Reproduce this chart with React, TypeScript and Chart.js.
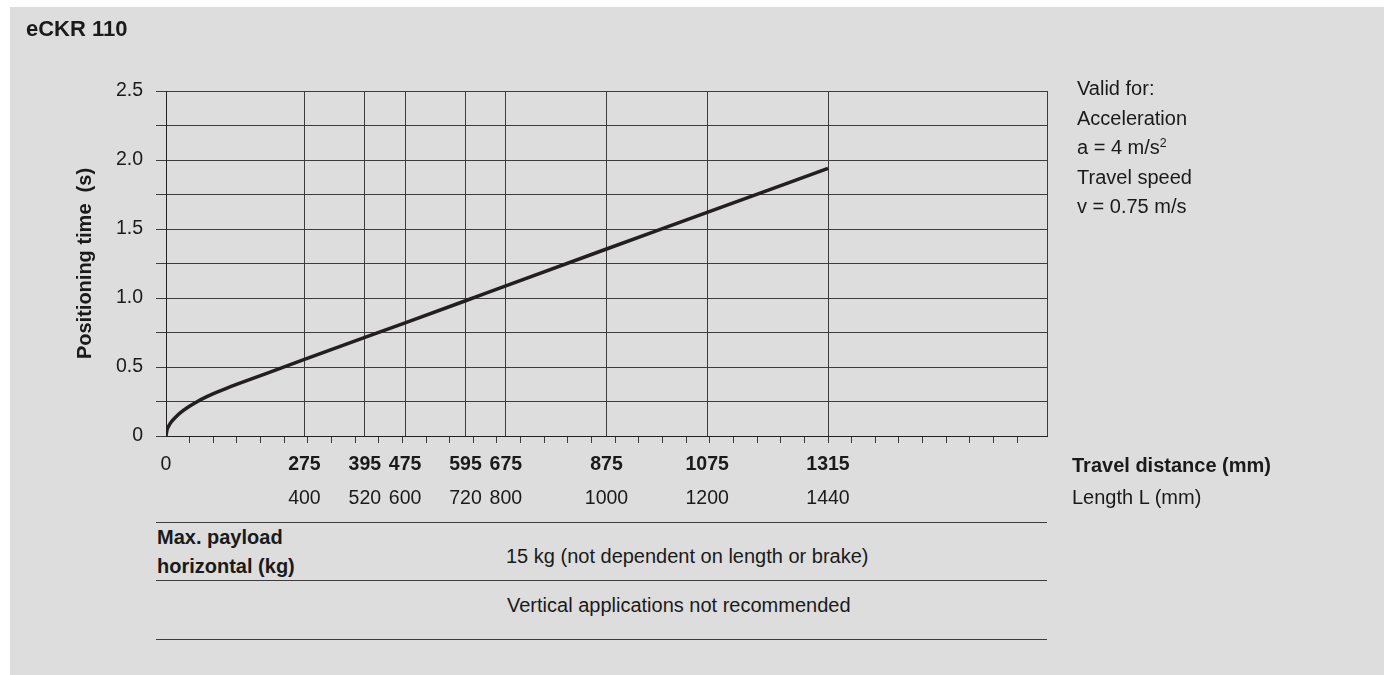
import React, { useEffect, useRef } from "react";
import { Chart, registerables } from "chart.js";

Chart.register(...registerables);

// ---- data ----
const TRAVEL_MM = [0, 2, 5, 10, 20, 30, 45, 60, 80, 100, 120, 140, 200, 275, 395, 475, 595, 675, 875, 1075, 1315];
const POS_TIME_S = [0, 0.045, 0.07, 0.1, 0.14, 0.173, 0.212, 0.245, 0.283, 0.316, 0.346, 0.374, 0.454, 0.555, 0.715, 0.82, 0.98, 1.088, 1.355, 1.62, 1.94];

const TRAVEL_TICKS = [0, 275, 395, 475, 595, 675, 875, 1075, 1315];
const LENGTH_LABELS = ["", "400", "520", "600", "720", "800", "1000", "1200", "1440"];

const X_MAX = 1750;
const Y_MAX = 2.5;
const Y_STEP = 0.25;
const MINOR_STEP = 46.96;
const MINOR_COUNT = 36;

const NOTES = ["Valid for:", "Acceleration", "a = 4 m/s", "Travel speed", "v = 0.75 m/s"];

const FONT = "'Liberation Sans', Arial, Helvetica, sans-serif";
const TEXT = "#1a1a1a";
const GRID = "#3c3c3c";
const TRANSPARENT = "rgba(0,0,0,0)";

const near = (a: number, b: number) => Math.abs(a - b) < 1;

export default function App() {
  const canvasRef = useRef<HTMLCanvasElement | null>(null);

  useEffect(() => {
    document.body.style.margin = "0";
    const canvas = canvasRef.current;
    if (!canvas) return;

    const majorVals = [...TRAVEL_TICKS, X_MAX];
    const minorVals = Array.from({ length: MINOR_COUNT }, (_, i) => (i + 1) * MINOR_STEP);
    const allVals = [...majorVals];
    minorVals.forEach((m) => {
      if (!majorVals.some((M) => near(M, m))) allVals.push(m);
    });
    allVals.sort((a, b) => a - b);
    const isMajor = (v: number) => majorVals.some((M) => near(M, v));
    const hasMark = (v: number) => minorVals.some((m) => near(m, v));

    const chart = new Chart(canvas, {
      type: "line",
      data: {
        datasets: [
          {
            data: TRAVEL_MM.map((x, i) => ({ x, y: POS_TIME_S[i] })),
            borderColor: "#231f20",
            borderWidth: 3.5,
            pointRadius: 0,
            fill: false,
            cubicInterpolationMode: "monotone",
            borderCapStyle: "butt",
            xAxisID: "x",
            yAxisID: "y",
          },
        ],
      },
      options: {
        responsive: false,
        animation: false,
        events: [],
        layout: { padding: { left: 0, top: 91, right: 337, bottom: 4 } },
        plugins: {
          legend: { display: false },
          tooltip: { enabled: false },
        },
        scales: {
          x: {
            type: "linear",
            position: "bottom",
            weight: 0,
            min: 0,
            max: X_MAX,
            afterBuildTicks: (scale: any) => {
              scale.ticks = allVals.map((v) => ({ value: v }));
            },
            afterFit: (scale: any) => {
              scale.height = 40;
            },
            ticks: {
              autoSkip: false,
              maxRotation: 0,
              minRotation: 0,
              padding: 10,
              color: TEXT,
              font: (ctx: any) => ({
                family: FONT,
                size: 19.5,
                weight: ctx.tick && ctx.tick.value === 0 ? "normal" : "bold",
              }),
              callback: (value: any) => {
                const idx = TRAVEL_TICKS.indexOf(Number(value));
                return idx >= 0 ? String(TRAVEL_TICKS[idx]) : "";
              },
            },
            grid: {
              drawTicks: true,
              tickLength: 7,
              lineWidth: 1,
              color: (ctx: any) => {
                const v = ctx.tick ? ctx.tick.value : -1;
                return isMajor(v) && v !== 0 ? GRID : TRANSPARENT;
              },
              tickColor: (ctx: any) => {
                const v = ctx.tick ? ctx.tick.value : -1;
                return hasMark(v) ? GRID : TRANSPARENT;
              },
            },
            border: { display: true, color: "#222", width: 1 },
          },
          x2: {
            type: "linear",
            position: "bottom",
            weight: 1,
            min: 0,
            max: X_MAX,
            afterBuildTicks: (scale: any) => {
              scale.ticks = TRAVEL_TICKS.filter((_, i) => LENGTH_LABELS[i] !== "").map((v) => ({ value: v }));
            },
            afterFit: (scale: any) => {
              scale.height = 40;
            },
            ticks: {
              autoSkip: false,
              maxRotation: 0,
              minRotation: 0,
              padding: 11,
              color: TEXT,
              font: { family: FONT, size: 19.5 },
              callback: (value: any) => {
                const idx = TRAVEL_TICKS.indexOf(Number(value));
                return idx >= 0 ? LENGTH_LABELS[idx] : "";
              },
            },
            grid: { display: false, drawTicks: false },
            border: { display: false },
          },
          y: {
            type: "linear",
            position: "left",
            min: 0,
            max: Y_MAX,
            afterFit: (scale: any) => {
              scale.width = 166;
            },
            ticks: {
              stepSize: Y_STEP,
              padding: 13,
              color: TEXT,
              font: { family: FONT, size: 19.5 },
              callback: (value: any) => {
                const n = Number(value);
                if (Math.abs(n * 2 - Math.round(n * 2)) > 1e-6) return "";
                return n === 0 ? "0" : n.toFixed(1);
              },
            },
            grid: { color: GRID, lineWidth: 1, tickLength: 10, drawTicks: true },
            border: { display: true, color: "#222", width: 1 },
            title: {
              display: true,
              text: "Positioning time  (s)",
              color: TEXT,
              font: { family: FONT, size: 20, weight: "bold" },
              padding: { top: 73, bottom: 0 },
            },
          },
        },
      } as any,
    });

    return () => chart.destroy();
  }, []);

  const abs = (left: number, top: number, extra: React.CSSProperties = {}): React.CSSProperties => ({
    position: "absolute",
    left,
    top,
    whiteSpace: "nowrap",
    color: TEXT,
    fontFamily: FONT,
    ...extra,
  });

  const line = (top: number): React.CSSProperties => ({
    position: "absolute",
    left: 156,
    width: 891,
    top,
    height: 1,
    background: GRID,
  });

  return (
    <div
      style={{
        position: "relative",
        width: 1384,
        height: 675,
        overflow: "hidden",
        background: "#ffffff",
        fontFamily: FONT,
      }}
    >
      <div style={{ position: "absolute", left: 10, top: 7, right: 0, bottom: 0, background: "#dddddd" }} />
      <canvas
        ref={canvasRef}
        width={1384}
        height={520}
        style={{ position: "absolute", left: 0, top: 0, width: 1384, height: 520 }}
      />

      <div style={abs(26, 16, { fontSize: 22, fontWeight: "bold", lineHeight: "26px" })}>eCKR 110</div>

      <div style={abs(1077, 74, { fontSize: 20, lineHeight: "29.5px" })}>
        {NOTES.map((t, i) => (
          <div key={i}>
            {t}
            {i === 2 ? (
              <span style={{ fontSize: "0.62em", position: "relative", top: "-0.6em", lineHeight: 0 }}>2</span>
            ) : null}
          </div>
        ))}
      </div>

      <div style={abs(1072, 451, { fontSize: 20, fontWeight: "bold", lineHeight: "28px" })}>Travel distance (mm)</div>
      <div style={abs(1072, 483, { fontSize: 20, lineHeight: "28px" })}>Length L (mm)</div>

      <div style={line(522)} />
      <div style={line(580)} />
      <div style={line(639)} />

      <div style={abs(157, 523, { fontSize: 20, fontWeight: "bold", lineHeight: "29px" })}>
        <div>Max. payload</div>
        <div>horizontal (kg)</div>
      </div>
      <div style={abs(506, 542, { fontSize: 20, lineHeight: "28px" })}>15 kg (not dependent on length or brake)</div>
      <div style={abs(507, 591, { fontSize: 20, lineHeight: "28px" })}>Vertical applications not recommended</div>
    </div>
  );
}
